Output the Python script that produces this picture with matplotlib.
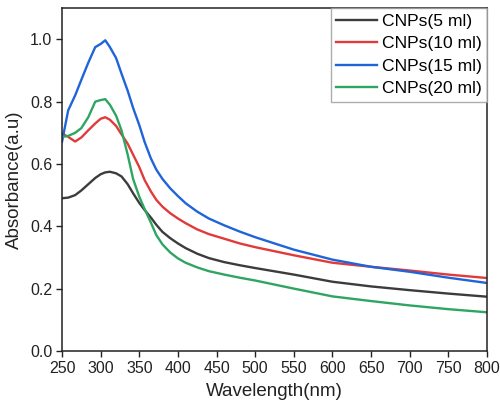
import matplotlib
matplotlib.use("Agg")
import matplotlib.pyplot as plt

plt.rcParams['font.family'] = ['Liberation Sans', 'DejaVu Sans']

wavelength = [250, 258, 267, 275, 284, 293, 300, 306, 312, 320, 327, 335, 342, 350, 357,
              365, 372, 380, 390, 400, 410, 425, 440, 460, 480, 500, 550, 600, 650, 700, 750, 800]

cnp5 = [0.490, 0.492, 0.500, 0.515, 0.535, 0.555, 0.567, 0.573, 0.575, 0.570, 0.560, 0.535, 0.506,
        0.475, 0.452, 0.428, 0.405, 0.382, 0.362, 0.345, 0.330, 0.312, 0.298, 0.285, 0.275, 0.266,
        0.245, 0.222, 0.207, 0.195, 0.184, 0.174]
cnp10 = [0.698, 0.687, 0.672, 0.685, 0.708, 0.730, 0.745, 0.750, 0.742, 0.722, 0.695, 0.665, 0.630,
         0.590, 0.548, 0.512, 0.485, 0.463, 0.442, 0.425, 0.410, 0.390, 0.375, 0.360, 0.345, 0.333,
         0.307, 0.283, 0.270, 0.258, 0.245, 0.234]
cnp15 = [0.671, 0.772, 0.820, 0.870, 0.925, 0.975, 0.985, 0.997, 0.975, 0.940, 0.890, 0.835, 0.780,
         0.725, 0.670, 0.618, 0.582, 0.552, 0.522, 0.497, 0.474, 0.447, 0.425, 0.403, 0.383, 0.365,
         0.325, 0.293, 0.270, 0.254, 0.235, 0.218]
cnp20 = [0.687, 0.690, 0.700, 0.715, 0.750, 0.800, 0.805, 0.808, 0.790, 0.755, 0.708, 0.630, 0.552,
         0.495, 0.455, 0.412, 0.372, 0.342, 0.316, 0.297, 0.283, 0.268, 0.256, 0.245, 0.235, 0.226,
         0.200, 0.175, 0.160, 0.146, 0.134, 0.124]

labels = ['CNPs(5 ml)', 'CNPs(10 ml)', 'CNPs(15 ml)', 'CNPs(20 ml)']
colors = ['#3c3c3c', '#e23a3a', '#1f64d8', '#2ea563']

fig = plt.figure(figsize=(5.0, 4.09), dpi=100)
ax = fig.add_axes([0.124, 0.142, 0.85, 0.838])

for series, lab, col in zip([cnp5, cnp10, cnp15, cnp20], labels, colors):
    ax.plot(wavelength, series, color=col, lw=1.7, label=lab)

ax.set_xlim(250, 800)
ax.set_ylim(0, 1.1)
ax.set_xticks(range(250, 801, 50))
ax.set_yticks([0.0, 0.2, 0.4, 0.6, 0.8, 1.0])
ax.set_yticklabels(['0.0', '0.2', '0.4', '0.6', '0.8', '1.0'])
ax.tick_params(direction='out', length=4, width=1, labelsize=11.5, colors='#222222', pad=3)
for s in ax.spines.values():
    s.set_linewidth(1.1)
    s.set_color('#222222')

ax.set_xlabel('Wavelength(nm)', fontsize=13.5, color='#222222', labelpad=5)
ax.set_ylabel('Absorbance(a.u)', fontsize=13.5, color='#222222', labelpad=5)

leg = ax.legend(loc='upper right', fontsize=12.6, frameon=True, fancybox=False,
                borderaxespad=0, handlelength=2.3, handletextpad=0.3,
                labelspacing=0.42, borderpad=0.3)
leg.get_frame().set_edgecolor('#999999')
leg.get_frame().set_linewidth(1.0)

fig.savefig('out.png', dpi=100)
